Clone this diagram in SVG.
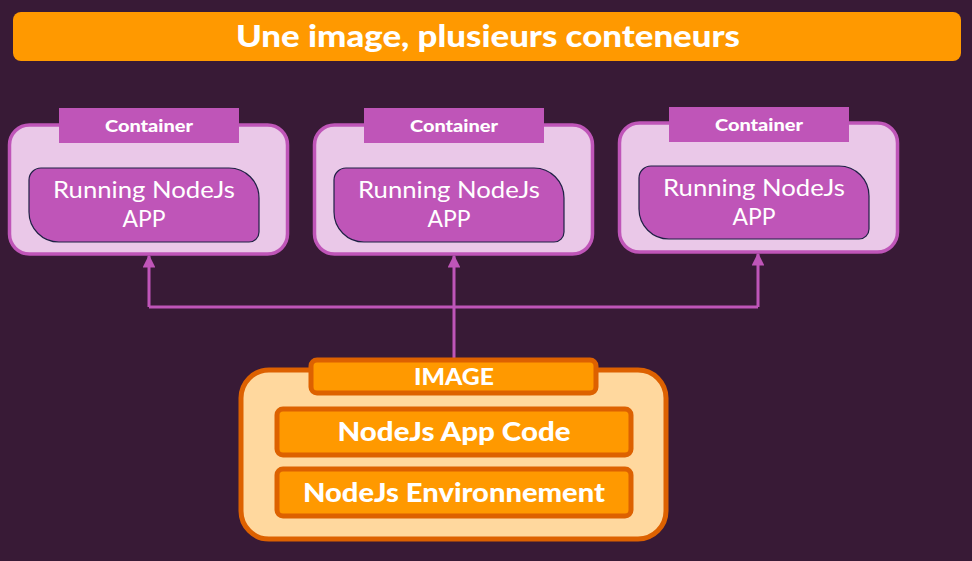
<svg xmlns="http://www.w3.org/2000/svg" width="972" height="561" viewBox="0 0 972 561">
<defs>
<style>
.bg{fill:#381A36}
.title{fill:#FF9900}
.cont{fill:#EAC8E8;stroke:#BF55B8;stroke-width:3.5}
.tag{fill:#BF55B8}
.inner{fill:#BF55B8;stroke:#1F2145;stroke-width:1.2}
.tb{font-family:Lato,"Liberation Sans",sans-serif;font-weight:900;fill:#fff;text-anchor:middle}
.tl{font-family:Lato,"Liberation Sans",sans-serif;font-weight:normal;fill:#fff;text-anchor:middle;font-size:23px}
.conn{fill:none;stroke:#BF55B8;stroke-width:3}
.img{fill:#FFD89E;stroke:#DD6100;stroke-width:5}
.ibox{fill:#FF9900;stroke:#DD6100;stroke-width:5}
</style>
<marker id="ah" viewBox="0 0 10 10" refX="9" refY="5" markerWidth="4.3" markerHeight="4.3" orient="auto" markerUnits="strokeWidth">
<path d="M0,0 L10,5 L0,10 Z" fill="#BF55B8"/>
</marker>
</defs>
<rect class="bg" x="0" y="0" width="972" height="561"/>
<g id="title">
<rect class="title" x="13" y="12" width="948" height="49" rx="8"/>
<text class="tb" x="488" y="47" font-size="31" textLength="504" lengthAdjust="spacingAndGlyphs">Une image, plusieurs conteneurs</text>
</g>
<g id="connectors">
<path class="conn" d="M454,360 V307"/>
<path class="conn" d="M149,307 H758"/>
<path class="conn" d="M149,307 V256" marker-end="url(#ah)"/>
<path class="conn" d="M454,307 V256" marker-end="url(#ah)"/>
<path class="conn" d="M758,307 V254" marker-end="url(#ah)"/>
</g>
<g id="container1">
<rect class="cont" x="9.5" y="125" width="278" height="129" rx="20"/>
<rect class="tag" x="59" y="108" width="180" height="35"/>
<text class="tb" x="149" y="132" font-size="16" textLength="88" lengthAdjust="spacingAndGlyphs">Container</text>
<path class="inner" d="M41,168 H229 A30,30 0 0 1 259,198 V232 A10,10 0 0 1 249,242 H59 A30,30 0 0 1 29,212 V180 A12,12 0 0 1 41,168 Z"/>
<text class="tl" x="144" y="198" textLength="182" lengthAdjust="spacingAndGlyphs">Running NodeJs</text>
<text class="tl" x="144" y="227" textLength="43" lengthAdjust="spacingAndGlyphs">APP</text>
</g>
<g id="container2">
<rect class="cont" x="314.5" y="125" width="278" height="129" rx="20"/>
<rect class="tag" x="364" y="108" width="180" height="35"/>
<text class="tb" x="454" y="132" font-size="16" textLength="88" lengthAdjust="spacingAndGlyphs">Container</text>
<path class="inner" d="M346,168 H534 A30,30 0 0 1 564,198 V232 A10,10 0 0 1 554,242 H364 A30,30 0 0 1 334,212 V180 A12,12 0 0 1 346,168 Z"/>
<text class="tl" x="449" y="198" textLength="182" lengthAdjust="spacingAndGlyphs">Running NodeJs</text>
<text class="tl" x="449" y="227" textLength="43" lengthAdjust="spacingAndGlyphs">APP</text>
</g>
<g id="container3">
<rect class="cont" x="619.5" y="123" width="278" height="129" rx="20"/>
<rect class="tag" x="669" y="107" width="180" height="35"/>
<text class="tb" x="759" y="131" font-size="16" textLength="88" lengthAdjust="spacingAndGlyphs">Container</text>
<path class="inner" d="M651,166 H839 A30,30 0 0 1 869,196 V229 A10,10 0 0 1 859,239 H669 A30,30 0 0 1 639,209 V178 A12,12 0 0 1 651,166 Z"/>
<text class="tl" x="754" y="196" textLength="182" lengthAdjust="spacingAndGlyphs">Running NodeJs</text>
<text class="tl" x="754" y="225" textLength="43" lengthAdjust="spacingAndGlyphs">APP</text>
</g>
<g id="image">
<rect class="img" x="241" y="370" width="425" height="169" rx="28"/>
<rect class="ibox" x="311" y="360" width="285" height="33" rx="6"/>
<text class="tb" x="454" y="385" font-size="22" textLength="80" lengthAdjust="spacingAndGlyphs">IMAGE</text>
</g>
<g id="appcode">
<rect class="ibox" x="277" y="409" width="354" height="46" rx="6"/>
<text class="tb" x="454" y="441" font-size="26" textLength="233" lengthAdjust="spacingAndGlyphs">NodeJs App Code</text>
</g>
<g id="env">
<rect class="ibox" x="277" y="469" width="354" height="47" rx="6"/>
<text class="tb" x="454" y="502" font-size="26" textLength="302" lengthAdjust="spacingAndGlyphs">NodeJs Environnement</text>
</g>
</svg>
